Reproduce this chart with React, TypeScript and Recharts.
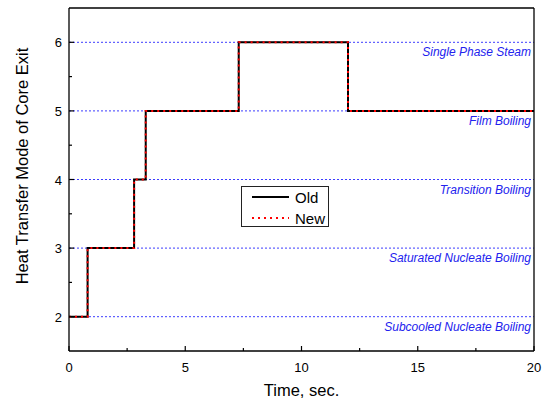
import { LineChart, Line, XAxis, YAxis, ReferenceLine, Legend, Label } from "recharts";

const stepTimes = [0, 0.8, 2.8, 3.3, 7.3, 12.0, 20];
const oldModes = [2, 3, 4, 5, 6, 5, 5];
const newModes = [2, 3, 4, 5, 6, 5, 5];

const modeLevels = [6, 5, 4, 3, 2];
const modeNames = [
  "Single Phase Steam",
  "Film Boiling",
  "Transition Boiling",
  "Saturated Nucleate Boiling",
  "Subcooled Nucleate Boiling",
];

const xTicks = [0, 2.5, 5, 7.5, 10, 12.5, 15, 17.5, 20];
const xLabelTicks = [0, 5, 10, 15, 20];
const yTicks = [2, 2.5, 3, 3.5, 4, 4.5, 5, 5.5, 6];
const yLabelTicks = [2, 3, 4, 5, 6];

const FONT = "'Liberation Sans', Arial, sans-serif";

const data = stepTimes.map((t, i) => ({ t, old: oldModes[i], new: newModes[i] }));

function XTick(props: any) {
  const { x, y, payload } = props;
  const major = xLabelTicks.includes(payload.value);
  return (
    <g>
      <line x1={x} y1={y} x2={x} y2={y - (major ? 5 : 3)} stroke="#000" strokeWidth={1.2} />
      {major && (
        <text x={x} y={y + 21} textAnchor="middle" fontSize={13} fontFamily={FONT} fill="#000">
          {payload.value}
        </text>
      )}
    </g>
  );
}

function YTick(props: any) {
  const { x, y, payload } = props;
  const major = yLabelTicks.includes(payload.value);
  return (
    <g>
      <line x1={x} y1={y} x2={x + (major ? 5 : 3)} y2={y} stroke="#000" strokeWidth={1.2} />
      {major && (
        <text x={x - 7} y={y + 5} textAnchor="end" fontSize={13} fontFamily={FONT} fill="#000">
          {payload.value}
        </text>
      )}
    </g>
  );
}

function LegendBox() {
  const rows = [
    { name: "Old", color: "#000", dash: undefined as string | undefined, top: 11 },
    { name: "New", color: "#ff0000", dash: "2 4", top: 32 },
  ];
  return (
    <div
      style={{
        position: "relative",
        width: 88,
        height: 41,
        border: "1px solid #222",
        boxSizing: "border-box",
        background: "#fff",
        fontFamily: FONT,
        fontSize: 15,
      }}
    >
      {rows.map((r) => (
        <div key={r.name}>
          <svg
            width={40}
            height={4}
            style={{ position: "absolute", left: 10, top: r.top - 3 }}
          >
            <line x1={0} y1={2} x2={37} y2={2} stroke={r.color} strokeWidth={2} strokeDasharray={r.dash} />
          </svg>
          <span style={{ position: "absolute", left: 53, top: r.top - 9, lineHeight: "17px", color: "#000" }}>
            {r.name}
          </span>
        </div>
      ))}
    </div>
  );
}

export default function App() {
  return (
    <div style={{ position: "absolute", left: 0, top: 0, background: "#fff" }}>
      <LineChart width={547} height={401} data={data} margin={{ top: 8, right: 13, bottom: 0, left: 0 }}>
        <XAxis
          dataKey="t"
          type="number"
          domain={[0, 20]}
          ticks={xTicks}
          interval={0}
          tickSize={0}
          tickMargin={0}
          tickLine={false}
          tick={<XTick />}
          height={50}
          axisLine={{ stroke: "#000", strokeWidth: 1.3 }}
        >
          <Label
            content={(p: any) => (
              <text
                x={p.viewBox.x + p.viewBox.width / 2}
                y={p.viewBox.y + 45}
                textAnchor="middle"
                fontSize={16.5}
                fontFamily={FONT}
                fill="#000"
              >
                Time, sec.
              </text>
            )}
          />
        </XAxis>
        <YAxis
          type="number"
          domain={[1.5, 6.5]}
          ticks={yTicks}
          interval={0}
          tickSize={0}
          tickMargin={0}
          tickLine={false}
          tick={<YTick />}
          width={69}
          axisLine={{ stroke: "#000", strokeWidth: 1.3 }}
        >
          <Label
            content={() => (
              <text
                x={28}
                y={166}
                textAnchor="middle"
                fontSize={16.5}
                fontFamily={FONT}
                fill="#000"
                transform="rotate(-90, 28, 166)"
              >
                Heat Transfer Mode of Core Exit
              </text>
            )}
          />
        </YAxis>
        {modeLevels.map((lv, i) => (
          <ReferenceLine
            key={lv}
            y={lv}
            stroke="#3c3cff"
            strokeWidth={1}
            strokeDasharray="2 2"
            label={(p: any) => (
              <text
                x={p.viewBox.x + p.viewBox.width - 3}
                y={p.viewBox.y + 14}
                textAnchor="end"
                fontSize={12}
                fontStyle="italic"
                fontFamily={FONT}
                fill="#2222ee"
              >
                {modeNames[i]}
              </text>
            )}
          />
        ))}
        <ReferenceLine y={6.5} stroke="#000" strokeWidth={1.3} />
        <ReferenceLine x={20} stroke="#000" strokeWidth={1.3} />
        <Line
          type="stepAfter"
          dataKey="old"
          stroke="#000"
          strokeWidth={2}
          dot={false}
          activeDot={false}
          isAnimationActive={false}
        />
        <Line
          type="stepAfter"
          dataKey="new"
          stroke="#ff0000"
          strokeWidth={2}
          strokeDasharray="2 4"
          dot={false}
          activeDot={false}
          isAnimationActive={false}
        />
        <Legend
          layout="vertical"
          align="center"
          verticalAlign="middle"
          content={() => <LegendBox />}
          wrapperStyle={{ position: "absolute", left: 241, top: 186, width: 88, height: 41 }}
        />
      </LineChart>
    </div>
  );
}
